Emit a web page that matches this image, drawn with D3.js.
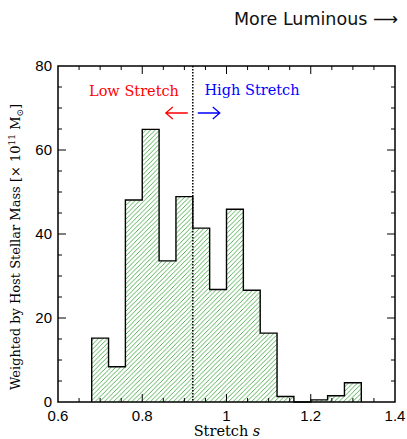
<!DOCTYPE html>
<html>
<head>
<meta charset="utf-8">
<script src="https://cdn.jsdelivr.net/npm/d3@7"></script>
<style>
  html, body { margin: 0; padding: 0; background: #fff; }
  svg { display: block; }
</style>
</head>
<body>
<svg id="chart" width="407" height="439"></svg>
<script>
// Histogram bins of SN stretch, weighted by host stellar mass
const binEdges = [0.68, 0.72, 0.76, 0.80, 0.84, 0.88, 0.92, 0.96, 1.00, 1.04, 1.08, 1.12, 1.16, 1.20, 1.24, 1.28, 1.32];
const weights  = [15.2, 8.4, 48.1, 64.9, 33.6, 48.9, 41.4, 26.8, 45.9, 26.6, 16.4, 1.3, 0, 0.5, 1.5, 4.6];
const xTickValues = [0.6, 0.8, 1.0, 1.2, 1.4];
const xTickLabels = ["0.6", "0.8", "1", "1.2", "1.4"];
const yTickValues = [0, 20, 40, 60, 80];
const dividingStretch = 0.92;

const svg = d3.select("#chart");
const plot = { left: 58, right: 395, top: 66, bottom: 402 };

const x = d3.scaleLinear().domain([0.6, 1.4]).range([plot.left, plot.right]);
const y = d3.scaleLinear().domain([0, 80]).range([plot.bottom, plot.top]);

// "/" hatch pattern for the bars
const T = 4.6;
const defs = svg.append("defs");
defs.append("pattern")
  .attr("id", "hatch")
  .attr("patternUnits", "userSpaceOnUse")
  .attr("width", T).attr("height", T)
  .append("path")
  .attr("d", `M0,${T} L${T},0 M-1,1 L1,-1 M${T - 1},${T + 1} L${T + 1},${T - 1}`)
  .attr("stroke", "#46a846").attr("stroke-width", 0.9).attr("fill", "none");

const bins = weights.map((w, i) => ({ x0: binEdges[i], x1: binEdges[i + 1], w }));

// hatched fills
svg.append("g").selectAll("rect")
  .data(bins.filter(d => d.w > 0))
  .join("rect")
  .attr("x", d => x(d.x0))
  .attr("y", d => y(d.w))
  .attr("width", d => x(d.x1) - x(d.x0))
  .attr("height", d => y(0) - y(d.w))
  .attr("fill", "url(#hatch)");

// stepped outline of the histogram
const pts = [[binEdges[0], 0]];
bins.forEach(d => { pts.push([d.x0, d.w]); pts.push([d.x1, d.w]); });
pts.push([binEdges[binEdges.length - 1], 0]);
svg.append("path")
  .attr("d", d3.line().x(p => x(p[0])).y(p => y(p[1]))(pts))
  .attr("fill", "none")
  .attr("stroke", "#000")
  .attr("stroke-width", 1.4);

// dotted dividing line
svg.append("line")
  .attr("x1", x(dividingStretch)).attr("x2", x(dividingStretch))
  .attr("y1", y(80)).attr("y2", y(0))
  .attr("stroke", "#000")
  .attr("stroke-width", 1.5)
  .attr("stroke-dasharray", "1.5,1.5");

// ticks on all four sides
const xMinor = d3.range(0.65, 1.4, 0.05).map(v => +v.toFixed(2)).filter(v => !xTickValues.some(t => Math.abs(t - v) < 1e-6));
const yMinor = d3.range(5, 80, 5).filter(v => v % 20 !== 0);
const tg = svg.append("g").attr("stroke", "#000").attr("stroke-width", 1);
function xTicks(vals, len) {
  vals.forEach(v => {
    tg.append("line").attr("x1", x(v)).attr("x2", x(v)).attr("y1", plot.bottom).attr("y2", plot.bottom - len);
    tg.append("line").attr("x1", x(v)).attr("x2", x(v)).attr("y1", plot.top).attr("y2", plot.top + len);
  });
}
function yTicks(vals, len) {
  vals.forEach(v => {
    tg.append("line").attr("y1", y(v)).attr("y2", y(v)).attr("x1", plot.left).attr("x2", plot.left + len);
    tg.append("line").attr("y1", y(v)).attr("y2", y(v)).attr("x1", plot.right).attr("x2", plot.right - len);
  });
}
xTicks(xTickValues.slice(1, -1), 8);
xTicks(xMinor, 4);
yTicks(yTickValues.slice(1, -1), 8);
yTicks(yMinor, 4);

// frame
svg.append("rect")
  .attr("x", plot.left).attr("y", plot.top)
  .attr("width", plot.right - plot.left).attr("height", plot.bottom - plot.top)
  .attr("fill", "none").attr("stroke", "#000").attr("stroke-width", 1.5);

// tick labels
const sans = "'Liberation Sans', Arial, sans-serif";
const serif = "'DejaVu Serif', serif";
svg.append("g").selectAll("text")
  .data(xTickValues)
  .join("text")
  .attr("x", d => x(d))
  .attr("y", plot.bottom + 19)
  .attr("text-anchor", "middle")
  .attr("font-family", sans).attr("font-size", 15)
  .text((d, i) => xTickLabels[i]);
svg.append("g").selectAll("text")
  .data(yTickValues)
  .join("text")
  .attr("x", plot.left - 6)
  .attr("y", d => y(d) + 5)
  .attr("text-anchor", "end")
  .attr("font-family", sans).attr("font-size", 15)
  .text(d => d);

// axis titles
const xl = svg.append("text")
  .attr("x", 227).attr("y", 436)
  .attr("text-anchor", "middle")
  .attr("font-family", serif).attr("font-size", 14.5);
xl.append("tspan").text("Stretch ");
xl.append("tspan").attr("font-style", "italic").text("s");

const yl = svg.append("text")
  .attr("transform", `translate(20, 247) rotate(-90)`)
  .attr("text-anchor", "middle")
  .attr("font-family", serif).attr("font-size", 13);
yl.append("tspan").text("Weighted by Host Stellar Mass [× 10");
yl.append("tspan").attr("font-size", 9).attr("dy", -5).text("11");
yl.append("tspan").attr("dy", 5).text(" M");
yl.append("tspan").attr("font-size", 9).attr("dy", 3).text("⊙");
yl.append("tspan").attr("dy", -3).text("]");

// region labels and arrows
svg.append("text")
  .attr("x", 134).attr("y", 96)
  .attr("text-anchor", "middle")
  .attr("font-family", serif).attr("font-size", 14.5)
  .attr("fill", "#ff0000")
  .text("Low Stretch");
svg.append("text")
  .attr("x", 252).attr("y", 95)
  .attr("text-anchor", "middle")
  .attr("font-family", serif).attr("font-size", 14.5)
  .attr("fill", "#0000ff")
  .text("High Stretch");

const xd = x(dividingStretch), arrowY = 113;
svg.append("path")
  .attr("d", `M${xd - 5},${arrowY} H${xd - 27} M${xd - 20},${arrowY - 6} L${xd - 27},${arrowY} L${xd - 20},${arrowY + 6}`)
  .attr("fill", "none").attr("stroke", "#ff0000").attr("stroke-width", 1.3);
svg.append("path")
  .attr("d", `M${xd + 5},${arrowY} H${xd + 27} M${xd + 20},${arrowY - 6} L${xd + 27},${arrowY} L${xd + 20},${arrowY + 6}`)
  .attr("fill", "none").attr("stroke", "#0000ff").attr("stroke-width", 1.3);

// header note
svg.append("text")
  .attr("x", 398).attr("y", 25)
  .attr("text-anchor", "end")
  .attr("font-family", "'DejaVu Sans', sans-serif").attr("font-size", 17.5)
  .attr("fill", "#111")
  .text("More Luminous ⟶");
</script>
</body>
</html>
